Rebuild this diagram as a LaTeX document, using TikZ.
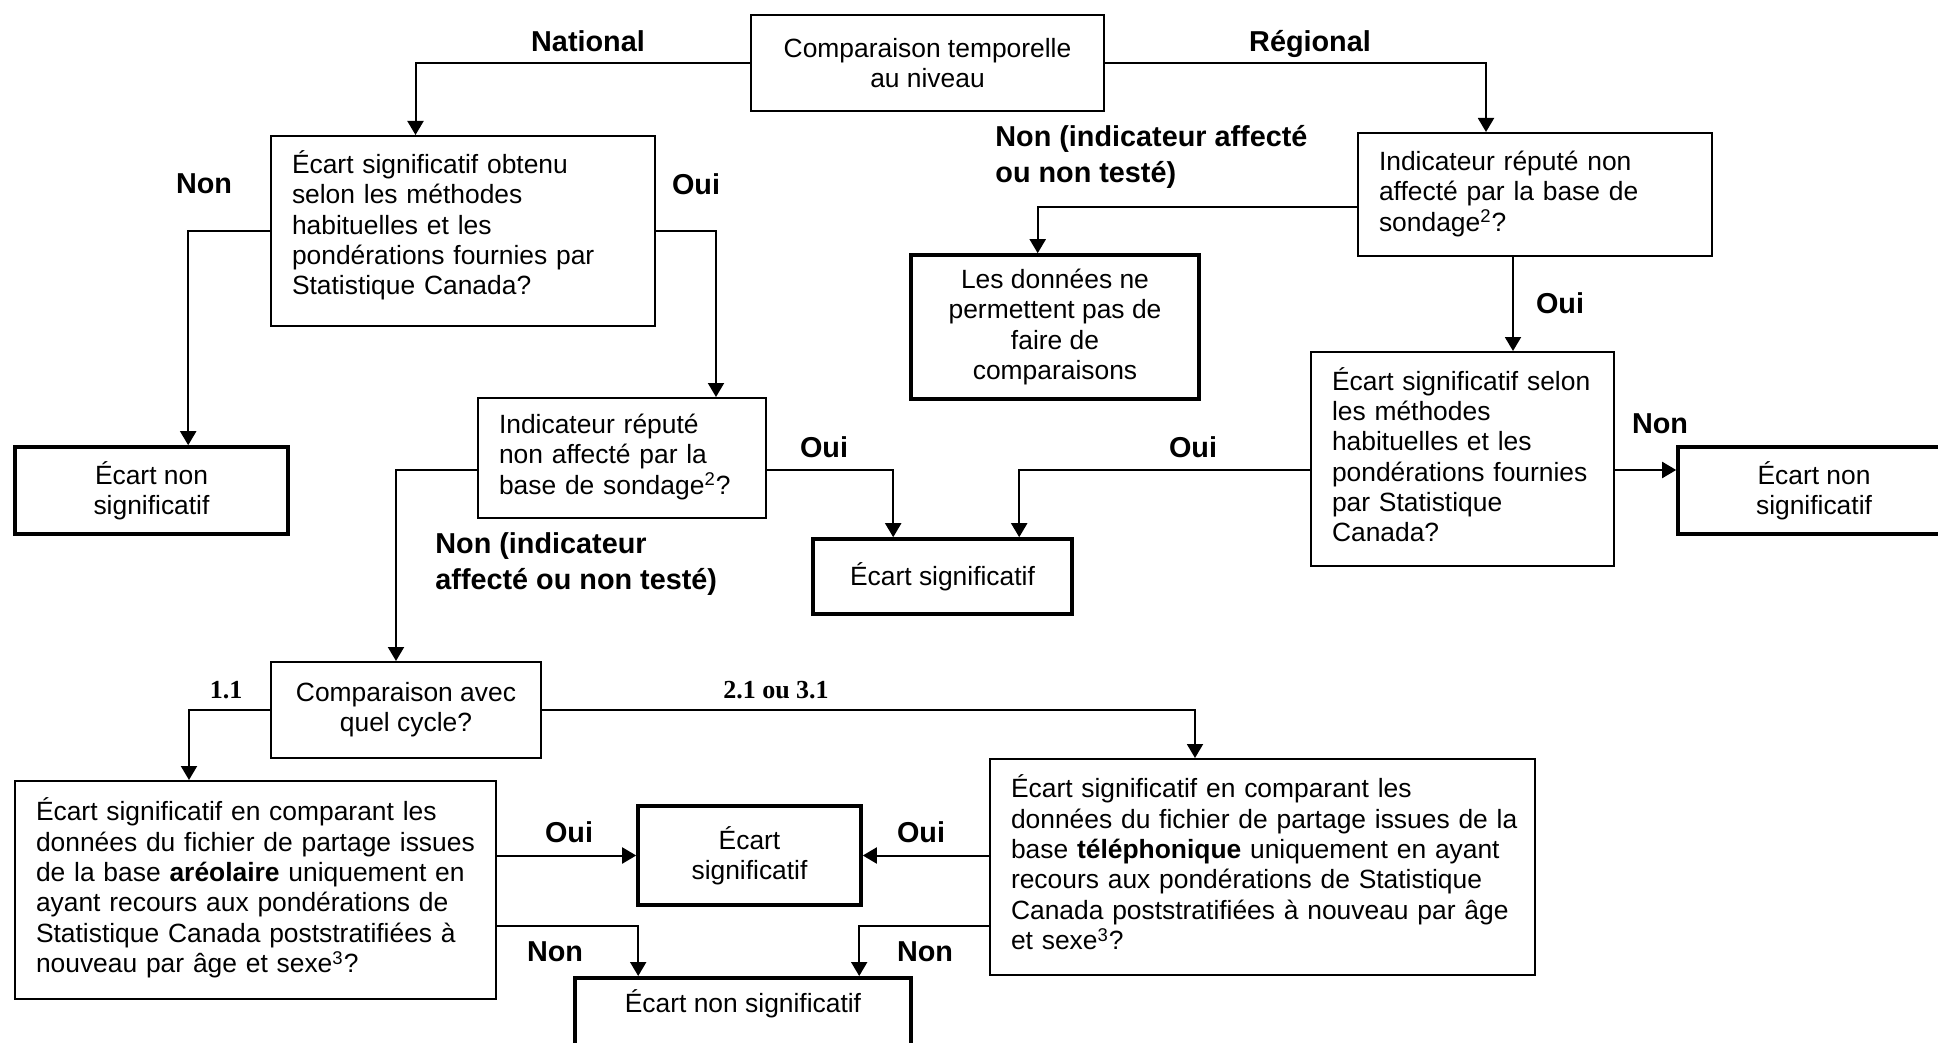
\documentclass[tikz,border=0pt]{standalone}
\usepackage{fontspec}
\setmainfont{Liberation Sans}
\newfontfamily\numfont{Liberation Serif}
\usetikzlibrary{arrows.meta}
\usetikzlibrary{calc}
\newcommand{\qlines}[1]{\begin{tabular}{@{}l@{}}#1\end{tabular}}

\begin{document}
\begin{tikzpicture}[x=0.5pt, y=-0.5pt,
    qbox/.style={draw, line width=1pt, align=left, inner xsep=10.5pt,
      font=\fontsize{13.2}{15.15}\selectfont},
    endbox/.style={draw, line width=1.8pt, align=center,
      font=\fontsize{13.2}{15.15}\selectfont},
    lbl/.style={font=\fontsize{14.4}{17.9}\selectfont\bfseries, align=left},
    num/.style={font=\fontsize{13}{15}\selectfont\numfont\bfseries},
    arr/.style={line width=1pt, -{Triangle[length=7pt,width=8pt]}}]

  \useasboundingbox (0,0) rectangle (1938,1043);

  % top of the chart
  \node[qbox, align=center, minimum width=176.5pt, minimum height=48pt] (comp)
    at (927.5,63) {Comparaison temporelle\\au niveau};

  % national branch
  \node[qbox, text width=171pt, minimum height=95pt, text depth=39pt] (natEcart) at (463,231)
    {\qlines{Écart significatif obtenu\\selon les méthodes\\habituelles et les\\pondérations fournies par\\Statistique Canada?}};
  \node[endbox, minimum width=136.5pt, minimum height=43.5pt] (natNon)
    at (151.5,490.5) {Écart non\\significatif};
  \node[qbox, text width=123pt, minimum height=60pt] (natInd) at (622,458)
    {\qlines{Indicateur réputé\\non affecté par la\\base de sondage\textsuperscript{2}?}};
  \node[endbox, minimum width=129.5pt, minimum height=37.5pt] (sig)
    at (942.5,576.5) {Écart significatif};

  % regional branch
  \node[qbox, text width=156pt, minimum height=61.5pt] (regInd) at (1535,194.5)
    {\qlines{Indicateur réputé non\\affecté par la base de\\sondage\textsuperscript{2}?}};
  \node[endbox, minimum width=144pt, minimum height=72pt] (regNo)
    at (1055,327) {Les données ne\\permettent pas de\\faire de\\comparaisons};
  \node[qbox, text width=130.5pt, minimum height=107pt] (regEcart) at (1462.5,459)
    {\qlines{Écart significatif selon\\les méthodes\\habituelles et les\\pondérations fournies\\par Statistique\\Canada?}};
  \node[endbox, minimum width=136pt, minimum height=43.5pt] (regNon)
    at (1814,490.5) {Écart non\\significatif};

  % which cycle
  \node[qbox, align=center, minimum width=135pt, minimum height=48pt] (cycle)
    at (406,710) {Comparaison avec\\quel cycle?};
  \node[qbox, text width=219.5pt, minimum height=109pt] (areo) at (255.5,890)
    {\qlines{Écart significatif en comparant les\\données du fichier de partage issues\\de la base \textbf{aréolaire} uniquement en\\ayant recours aux pondérations de\\Statistique Canada poststratifiées à\\nouveau par âge et sexe\textsuperscript{3}?}};
  \node[endbox, minimum width=111.5pt, minimum height=49.5pt] (sigBas)
    at (749.5,855.5) {Écart\\significatif};
  \node[qbox, text width=251.5pt, minimum height=108pt] (tele) at (1262.5,867)
    {\qlines{Écart significatif en comparant les\\données du fichier de partage issues de la\\base \textbf{téléphonique} uniquement en ayant\\recours aux pondérations de Statistique\\Canada poststratifiées à nouveau par âge\\et sexe\textsuperscript{3}?}};
  \node[endbox, anchor=north, minimum width=168pt, inner ysep=8pt,
    text height=9.5pt, text depth=40pt] (nonBas) at (743,976) {Écart non significatif};

  % connectors
  \draw[arr] (comp.west) -| ($(natEcart.north west)+(145.5,0)$);
  \draw[arr] (comp.east) -| ($(regInd.north west)+(129,0)$);
  \draw[arr] (natEcart.west) -| ($(natNon.north west)+(175,0)$);
  \draw[arr] (natEcart.east) -| ($(natInd.north west)+(239,0)$);
  \draw[arr] ($(natInd.east)+(0,12)$) -| ($(sig.north west)+(82,0)$);
  \draw[arr] ($(natInd.west)+(0,12)$) -| ($(cycle.north west)+(126,0)$);
  \draw[arr] ($(regInd.west)+(0,12.5)$) -| ($(regNo.north west)+(128.5,0)$);
  \draw[arr] ($(regInd.south west)+(156,0)$) coordinate (ouiReg)
    -- (ouiReg |- regEcart.north);
  \draw[arr] ($(regEcart.west)+(0,11)$) -| ($(sig.north west)+(208,0)$);
  \draw[arr] ($(regEcart.east)+(0,11)$) coordinate (nonReg)
    -- (nonReg -| regNon.west);
  \draw[arr] (cycle.west) -| ($(areo.north west)+(175,0)$);
  \draw[arr] (cycle.east) -| ($(tele.north west)+(206,0)$);
  \draw[arr] (sigBas.west -| areo.east) -- (sigBas.west);
  \draw[arr] (sigBas.east -| tele.west) -- (sigBas.east);
  \draw[arr] ($(areo.east)+(0,36)$) -| ($(nonBas.north west)+(65,0)$);
  \draw[arr] ($(tele.west)+(0,59)$) -| ($(nonBas.north west)+(286,0)$);

  % labels on the connectors
  \node[lbl] (lNat) at (588,41) {National};
  \node[lbl] (lReg) at (1310,43.5) {Régional};
  \node[lbl] (lNatNon) at (204,184) {Non};
  \node[lbl] (lNatOui) at (696,184) {Oui};
  \node[lbl] (lIndOui) at (824,447) {Oui};
  \node[lbl, anchor=west, inner sep=0pt] (lIndNon) at (435,564) {Non (indicateur\\affecté ou non testé)};
  \node[lbl, anchor=west, inner sep=0pt] (lRegNo) at (995,157) {Non (indicateur affecté\\ou non testé)};
  \node[lbl] (lRegOui) at (1560,303) {Oui};
  \node[lbl] (lEcartOui) at (1193,447) {Oui};
  \node[lbl] (lEcartNon) at (1660,424) {Non};
  \node[num] (lCyc1) at (226,690) {1.1};
  \node[num] (lCyc2) at (776,690) {2.1 ou 3.1};
  \node[lbl] (lAreoOui) at (569,832) {Oui};
  \node[lbl] (lTeleOui) at (921,832) {Oui};
  \node[lbl] (lAreoNon) at (555,952) {Non};
  \node[lbl] (lTeleNon) at (925,952) {Non};

\end{tikzpicture}
\end{document}
